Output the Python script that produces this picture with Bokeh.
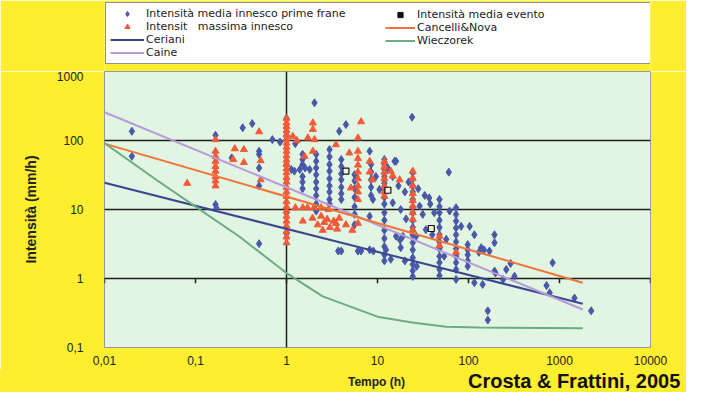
from bokeh.plotting import figure
from bokeh.layouts import column
from bokeh.models import (Range1d, FixedTicker, CustomJSTickFormatter, Span,
                          Legend, LegendItem, Div)
from bokeh.embed import file_html
from bokeh.resources import INLINE

# ---------------- data ----------------
# Blue diamonds: "Intensità media innesco prime frane" – scattered points
blue_t = [0.02, 0.02, 0.166, 0.166, 0.17, 0.25, 0.33, 0.42, 0.5, 0.5, 0.5, 0.5, 0.5, 0.7, 0.85,
          1, 1, 1, 1, 1, 1,
          1.13, 1.22, 1.25, 1.4, 1.5, 1.5, 1.5, 1.6, 1.8, 2.03, 3.8, 4.5, 8.2, 16, 15.4, 9.6, 10.5, 8.9, 8.2,
          3.7, 4.0, 6.1, 6.6, 8.2, 9.0,
          24, 60.7, 37, 62, 83, 103, 116, 138, 148, 193, 193, 116, 143, 163, 163, 193, 260, 12.4, 18, 19,
          26.6, 29, 31.4, 17.7, 57, 54, 130, 34, 40, 14.7, 18, 20.6, 16, 14.7, 17, 20, 22, 13, 28, 33,
          38, 42, 14, 20, 27,
          170, 290, 320, 840, 720, 780, 1460, 2230, 240, 198]
blue_i = [136, 59, 119, 11.8, 10.5, 56, 153, 176, 70, 63, 40, 22, 3.2, 103, 95,
          210, 120, 45, 28, 9, 4.5,
          38, 36, 90, 38, 53, 45, 30, 40, 38, 352, 136, 170, 70, 50, 50, 30, 19.5, 14, 8.0,
          2.5, 2.5, 2.5, 2.5, 2.6, 2.5,
          218, 34.8, 14.7, 9.5, 5.7, 5.7, 4.3, 2.8, 2.6, 4.3, 3.3, 0.87, 0.82, 0.34, 0.25, 1.28, 1.35, 2.6, 2.8, 4.1,
          4.1, 11.2, 8.5, 3.6, 3.7, 2.1, 2.4, 5.1, 4.3, 12.5, 10, 7.3, 4.1, 30, 22, 18, 25, 40, 20, 16,
          12, 9, 1.9, 1.8, 1.5,
          2.5, 1.65, 1.08, 1.69, 0.79, 0.62, 0.52, 0.34, 0.97, 1.2]
# Blue diamonds stacked in columns (same duration)
blue_col_t = [1.5, 2.12, 2.97, 4.0, 5.6, 8.5, 11.9, 24.4, 48, 73, 98]
blue_col_i = [
    [63, 25, 20],
    [63, 50, 40, 32, 25, 20, 16, 12, 9.5],
    [74, 58, 45, 36, 28, 22, 18, 14, 12],
    [53, 42, 33, 27, 21, 17, 14],
    [32, 26, 20, 15, 11, 8.5, 6],
    [45, 35, 27, 21, 16],
    [53, 45, 38, 30, 24, 19, 15, 12, 9, 7, 5, 3.8, 2.9, 2.2, 1.8],
    [34, 28, 22, 18, 14, 11, 9, 7, 5.5, 4.3, 3.3, 2.6, 2.0, 1.6, 1.3, 1.07],
    [14, 11, 9, 7, 5.5, 4.3, 3.4, 2.7, 2.1, 1.7, 1.35, 1.1],
    [10.6, 8.5, 6.8, 5.4, 4.3, 3.4, 2.7, 2.1, 1.7, 1.35, 0.97],
    [3.1, 2.6, 2.2, 1.8, 1.5],
]

# Red triangles: "Intensità massima innesco" – scattered points
red_t = [0.081, 0.27, 0.34, 0.26, 0.34, 0.5, 0.52, 0.52, 1.17, 1.3,
         1.58, 1.95, 1.95, 1.72, 2.03, 1.95, 1.51, 1.7, 2.0, 1.51,
         1.93, 2.2, 2.4, 2.6, 2.8, 3.0, 3.3, 3.6, 2.5, 3.8,
         6.6, 6.1, 3.5, 4.9, 8.2, 5.1, 3.5, 4.5, 6.1, 5.3,
         8.2, 8.8, 14.7, 17.5, 48, 73, 48, 14, 1.25, 2.4, 2.9]
red_i = [24, 76, 74, 53, 48, 134, 51, 27, 115, 100,
         59, 180, 145, 109, 103, 70, 10.6, 10.6, 10.6, 6.8,
         7.5, 6, 8, 6.5, 7.2, 5.5, 6.8, 5.2, 5, 7.5,
         187, 109, 87, 66, 50, 20.5, 6.3, 6, 6.3, 5,
         35, 27, 30.5, 27, 4.1, 2.4, 3.0, 36, 10.6, 10.6, 10]
red_col_t = [0.166, 1, 6.1, 11.9, 24.4]
red_col_i = [
    [103, 70, 59, 50, 42, 36, 30, 26, 22],
    [210, 180, 160, 140, 120, 105, 92, 80, 70, 60, 52, 45, 39, 34, 29, 25, 21, 18, 15.5,
     13, 11, 9.5, 8, 6.8, 5.8, 4.8, 4, 3.3],
    [70, 55, 44, 35, 28, 22, 18, 14],
    [50, 42, 35, 28, 22, 18, 15.6],
    [36, 28, 22, 17, 13.5, 11.2, 9, 7.2, 5.1],
]

# Black squares: "Intensità media evento"
evento_t = [4.5, 13, 39]
evento_i = [36, 19, 5.3]

# Threshold lines
ceriani_t = [0.01, 1800]
ceriani_i = [24.4, 0.43]
caine_t = [0.01, 1800]
caine_i = [257, 0.355]
cancelli_t = [0.01, 1800]
cancelli_i = [90, 0.87]
wiecz_t = [0.0098, 0.037, 0.1, 0.30, 1.0, 2.5, 10, 24, 57, 132, 1800]
wiecz_i = [93, 27, 11, 4.1, 1.2, 0.55, 0.28, 0.23, 0.20, 0.195, 0.19]

x_ticks = [0.01, 0.1, 1, 10, 100, 1000, 10000]
y_ticks = [0.1, 1, 10, 100, 1000]
grid_y = [1, 10, 100]

# flatten the columns
for t, col in zip(blue_col_t, blue_col_i):
    blue_t = blue_t + [t] * len(col)
    blue_i = blue_i + list(col)
for t, col in zip(red_col_t, red_col_i):
    red_t = red_t + [t] * len(col)
    red_i = red_i + list(col)

# ---------------- styles ----------------
FONT = "Liberation Sans"
LEG_FONT = "DejaVu Sans"
YELLOW = "#fdee30"
C_BLUE = "#4a58a8"
C_RED = "#f25a38"
C_CER = "#3a4690"
C_CAINE = "#b79ad8"
C_CANC = "#f07436"
C_WIE = "#6aac84"

# ---------------- top strip: legend ----------------
# its ranges are negative, so the series drawn here stay out of view and only feed the legend
top = figure(width=686, height=71, x_range=Range1d(-2, -1), y_range=Range1d(-2, -1),
             output_backend="svg", toolbar_location=None, title=None,
             x_axis_location=None, y_axis_location=None,
             min_border_left=104, min_border_right=36, min_border_top=0, min_border_bottom=0)
top.background_fill_color = YELLOW
top.border_fill_color = YELLOW
top.outline_line_color = None
top.xgrid.visible = False
top.ygrid.visible = False

l_blue = top.scatter(blue_t, blue_i, marker="diamond", size=8, fill_color=C_BLUE, line_color=C_BLUE)
l_red = top.scatter(red_t, red_i, marker="triangle", size=7, fill_color=C_RED, line_color=C_RED)
l_ev = top.scatter(evento_t, evento_i, marker="square", size=5, fill_color="#111111",
                   line_color="#111111")
l_cer = top.line(ceriani_t, ceriani_i, line_color=C_CER, line_width=2)
l_caine = top.line(caine_t, caine_i, line_color=C_CAINE, line_width=2)
l_canc = top.line(cancelli_t, cancelli_i, line_color=C_CANC, line_width=2)
l_wie = top.line(wiecz_t, wiecz_i, line_color=C_WIE, line_width=2)

common = dict(label_text_font=LEG_FONT, label_text_font_size="11px", label_text_color="#222222",
              padding=4, spacing=0, glyph_height=13, label_height=13, label_standoff=2,
              margin=0)
leg1 = Legend(items=[
    LegendItem(label="Intensità media innesco prime frane", renderers=[l_blue]),
    LegendItem(label="Intensit\u00a0\u00a0 massima innesco", renderers=[l_red]),
    LegendItem(label="Ceriani", renderers=[l_cer]),
    LegendItem(label="Caine", renderers=[l_caine]),
], location=(1, 7), glyph_width=34, label_width=500,
    border_line_color="#222222", border_line_width=1.5,
    background_fill_color="white", background_fill_alpha=1.0, **common)
top.add_layout(leg1)

leg2 = Legend(items=[
    LegendItem(label="Intensità media evento", renderers=[l_ev]),
    LegendItem(label="Cancelli&Nova", renderers=[l_canc]),
    LegendItem(label="Wieczorek", renderers=[l_wie]),
], location=(277, 20), glyph_width=30, label_width=100,
    border_line_alpha=0, background_fill_alpha=0, **common)
top.add_layout(leg2)

# ---------------- main chart ----------------
p = figure(width=686, height=298, x_axis_type="log", y_axis_type="log",
           x_range=Range1d(0.01, 10000), y_range=Range1d(0.1, 1000),
           output_backend="svg", toolbar_location=None, title=None,
           min_border_left=104, min_border_right=36, min_border_top=0, min_border_bottom=22)
p.background_fill_color = "#e2f4e2"
p.border_fill_color = YELLOW
p.outline_line_color = "#9a9a9a"
p.outline_line_width = 1

fmt = CustomJSTickFormatter(code="""
const e = Math.round(Math.log10(tick));
if (e < 0) { return Math.pow(10, e).toFixed(-e).replace('.', ','); }
return String(Math.round(Math.pow(10, e)));
""")

for ax in (p.xaxis[0], p.yaxis[0]):
    ax.formatter = fmt
    ax.axis_line_color = None
    ax.major_tick_line_color = None
    ax.minor_tick_line_color = None
    ax.major_tick_out = 0
    ax.major_tick_in = 0
    ax.minor_tick_out = 0
    ax.minor_tick_in = 0
    ax.major_label_text_font = FONT
    ax.major_label_text_font_size = "12px"
    ax.major_label_text_color = "#222222"

xa = p.xaxis[0]
xa.ticker = FixedTicker(ticks=x_ticks)
xa.major_label_standoff = 8

ya = p.yaxis[0]
ya.ticker = FixedTicker(ticks=y_ticks)
ya.major_label_standoff = 21
ya.axis_label = "Intensità (mm/h)"
ya.axis_label_text_font = FONT
ya.axis_label_text_font_size = "14px"
ya.axis_label_text_font_style = "bold"
ya.axis_label_text_color = "#222222"
ya.axis_label_standoff = 15

p.xgrid.visible = False
p.ygrid.ticker = FixedTicker(ticks=grid_y)
p.ygrid.grid_line_color = "#1e1e1e"
p.ygrid.grid_line_width = 1.5
p.ygrid.minor_grid_line_color = None

p.add_layout(Span(location=1, dimension="height", line_color="#1e1e1e",
                  line_width=1.5, level="underlay"))

# small tick marks on the y = 1 line
p.segment(x0=x_ticks, y0=[1] * len(x_ticks), x1=x_ticks, y1=[0.85] * len(x_ticks),
          line_color="#1e1e1e", line_width=1.5)

p.scatter(blue_t, blue_i, marker="diamond", size=8, fill_color=C_BLUE, line_color=C_BLUE)
p.scatter(red_t, red_i, marker="triangle", size=7, fill_color=C_RED, line_color=C_RED)

p.line(ceriani_t, ceriani_i, line_color=C_CER, line_width=2)
p.line(caine_t, caine_i, line_color=C_CAINE, line_width=2)
p.line(cancelli_t, cancelli_i, line_color=C_CANC, line_width=2)
p.line(wiecz_t, wiecz_i, line_color=C_WIE, line_width=2)

p.scatter(evento_t, evento_i, marker="square", size=6, fill_color="#f0f0e0",
          line_color="#111111", line_width=1.2)

# ---------------- bottom strip: axis title and credit ----------------
bottom_html = (
    '<div style="position:relative;width:686px;height:23px;background:%s;'
    "font-family:'Liberation Sans',Arial,sans-serif;\">"
    '<span style="position:absolute;left:348px;top:6px;font-size:12px;line-height:14px;'
    'font-weight:bold;color:#222222;white-space:nowrap;">Tempo (h)</span>'
    '<span style="position:absolute;left:468px;top:2px;font-size:20px;line-height:21px;'
    'font-weight:bold;color:#111111;white-space:nowrap;">Crosta &amp; Frattini, 2005</span>'
    '</div>' % YELLOW)
bot = Div(text=bottom_html, width=686, height=23, margin=0,
          styles={"background-color": YELLOW})

layout = column(top, p, bot, spacing=0)
open("out.html", "w").write(file_html(layout, INLINE))
